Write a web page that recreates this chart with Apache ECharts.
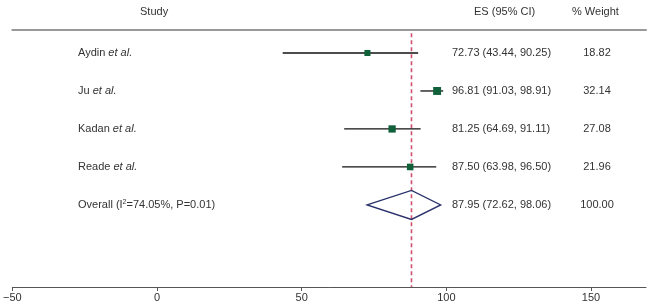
<!DOCTYPE html>
<html>
<head>
<meta charset="utf-8">
<script src="https://cdn.jsdelivr.net/npm/echarts@6/dist/echarts.min.js"></script>
<style>
  html, body { margin: 0; padding: 0; background: #fff; }
  #forest { width: 647px; height: 304px; }
</style>
</head>
<body>
<div id="forest"></div>
<script>
// studies
const studies = ['Aydin', 'Ju', 'Kadan', 'Reade'];
const es = [72.73, 96.81, 81.25, 87.50];
const ciLow = [43.44, 91.03, 64.69, 63.98];
const ciHigh = [90.25, 98.91, 91.11, 96.50];
const weights = ['18.82', '32.14', '27.08', '21.96'];
// pooled
const overallEs = 87.95;
const overallLow = 72.62;
const overallHigh = 98.06;
const overallLabel = 'Overall (I{sup|2}=74.05%, P=0.01)';
const overallWeight = '100.00';
// axis
const xTicks = [-50, 0, 50, 100, 150];

const font = '"Liberation Sans", Arial, sans-serif';
const textColor = '#333';

const fmt = v => v.toFixed(2);

const rows = studies.map((s, i) => ({
    row: i + 1,
    name: s + ' {it|et al.}',
    es: es[i], lo: ciLow[i], hi: ciHigh[i],
    ci: fmt(es[i]) + ' (' + fmt(ciLow[i]) + ', ' + fmt(ciHigh[i]) + ')',
    w: weights[i]
}));
rows.push({
    row: 5,
    name: overallLabel,
    es: overallEs, lo: overallLow, hi: overallHigh,
    ci: fmt(overallEs) + ' (' + fmt(overallLow) + ', ' + fmt(overallHigh) + ')',
    w: overallWeight
});

const myChart = echarts.init(document.getElementById('forest'));

const richStyle = {
    it: { fontStyle: 'italic', fontFamily: font, fontSize: 11, fill: textColor },
    sup: { fontSize: 7, verticalAlign: 'top', fontFamily: font, fill: textColor, padding: [0, 0, 5, 0] }
};

const option = {
    animation: false,
    grid: { left: 9, right: 1, top: 30, bottom: 17 },
    xAxis: [{
        type: 'value',
        min: -50,
        max: 169,
        interval: 50,
        position: 'bottom',
        axisLine: { show: true, lineStyle: { color: '#555', width: 1 } },
        axisTick: { show: true, length: 4, lineStyle: { color: '#555' } },
        axisLabel: {
            color: textColor, fontFamily: font, fontSize: 11, margin: 5,
            showMaxLabel: false,
            formatter: v => xTicks.includes(v) ? String(v).replace('-', '\u2212') : ''
        },
        splitLine: { show: false }
    }, {
        type: 'value',
        min: -50,
        max: 169,
        position: 'top',
        axisLine: { show: true, lineStyle: { color: '#999', width: 2 } },
        axisTick: { show: false },
        axisLabel: { show: false },
        splitLine: { show: false }
    }],
    yAxis: {
        type: 'value',
        inverse: true,
        min: 0.395,
        max: 7.16,
        show: false
    },
    graphic: [
        { type: 'text', left: 140, top: 6, style: { text: 'Study', font: '11px ' + font, fill: textColor } },
        { type: 'text', left: 474, top: 6, style: { text: 'ES (95% CI)', font: '11px ' + font, fill: textColor } },
        { type: 'text', left: 572, top: 6, style: { text: '% Weight', font: '11px ' + font, fill: textColor } }
    ],
    series: [
        {
            // reference line at the pooled estimate
            type: 'custom',
            data: [[overallEs, 0.48, 7.16]],
            renderItem: function (params, api) {
                const a = api.coord([api.value(0), api.value(1)]);
                const b = api.coord([api.value(0), api.value(2)]);
                return {
                    type: 'line',
                    shape: { x1: a[0], y1: a[1], x2: b[0], y2: b[1] },
                    style: { stroke: '#d0506e', lineWidth: 1.6, lineDash: [4, 3] }
                };
            },
            silent: true,
            z: 2
        },
        {
            // CI lines and squares
            type: 'custom',
            data: rows.slice(0, 4).map(r => [r.es, r.row, r.lo, r.hi, parseFloat(r.w)]),
            renderItem: function (params, api) {
                const pt = api.coord([api.value(0), api.value(1)]);
                const lo = api.coord([api.value(2), api.value(1)]);
                const hi = api.coord([api.value(3), api.value(1)]);
                const size = Math.sqrt(api.value(4)) * 1.4;
                return {
                    type: 'group',
                    children: [{
                        type: 'line',
                        shape: { x1: lo[0], y1: lo[1], x2: hi[0], y2: hi[1] },
                        style: { stroke: '#111', lineWidth: 1.3 }
                    }, {
                        type: 'rect',
                        shape: { x: pt[0] - size / 2, y: pt[1] - size / 2, width: size, height: size },
                        style: { fill: '#10603a' }
                    }]
                };
            },
            z: 3
        },
        {
            // pooled diamond
            type: 'custom',
            data: [[overallEs, 5, overallLow, overallHigh]],
            renderItem: function (params, api) {
                const c = api.coord([api.value(0), api.value(1)]);
                const l = api.coord([api.value(2), api.value(1)]);
                const r = api.coord([api.value(3), api.value(1)]);
                const h = 14.5;
                return {
                    type: 'polygon',
                    shape: { points: [[l[0], c[1]], [c[0], c[1] - h], [r[0], c[1]], [c[0], c[1] + h]] },
                    style: { fill: 'none', stroke: '#27306a', lineWidth: 1.3 }
                };
            },
            z: 4
        },
        {
            // table text
            type: 'custom',
            data: rows.map(r => [0, r.row]),
            renderItem: function (params, api) {
                const r = rows[params.dataIndex];
                const y = api.coord([0, api.value(1)])[1];
                return {
                    type: 'group',
                    children: [{
                        type: 'text',
                        x: 78, y: y,
                        style: { text: r.name, rich: richStyle, font: '11px ' + font, fill: textColor, verticalAlign: 'middle', align: 'left' }
                    }, {
                        type: 'text',
                        x: 452, y: y,
                        style: { text: r.ci, font: '11px ' + font, fill: textColor, verticalAlign: 'middle', align: 'left' }
                    }, {
                        type: 'text',
                        x: 597, y: y,
                        style: { text: r.w, font: '11px ' + font, fill: textColor, verticalAlign: 'middle', align: 'center' }
                    }]
                };
            },
            z: 5
        }
    ]
};

myChart.setOption(option);
</script>
</body>
</html>
